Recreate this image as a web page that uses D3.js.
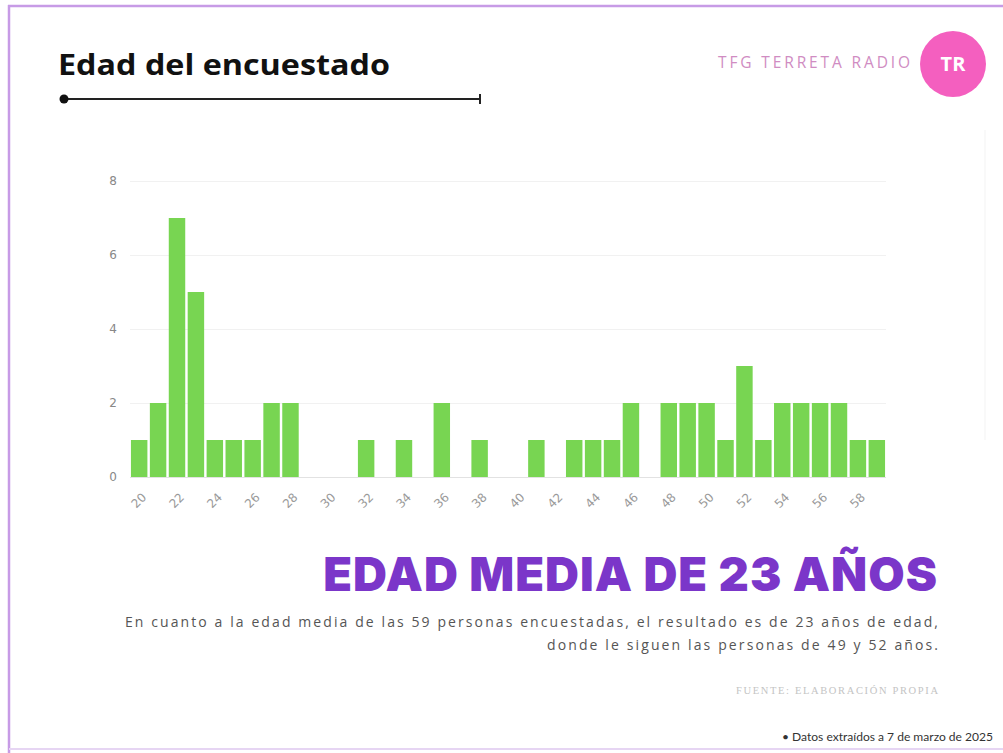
<!DOCTYPE html>
<html><head><meta charset="utf-8">
<script src="https://cdn.jsdelivr.net/npm/d3@7"></script>
<style>
html,body{margin:0;padding:0;background:#fff;}
svg{display:block;}
</style></head>
<body>
<svg id="c" width="1003" height="753"></svg>
<script>
const ages = d3.range(20, 60);
const counts = [1,2,7,5,1,1,1,2,2,0, 0,0,1,0,1,0,2,0,1,0, 0,1,0,1,1,1,2,0,2,2, 2,1,3,1,2,2,2,2,1,1];
const yTicks = [0,2,4,6,8];
const xTickLabels = d3.range(20, 60, 2);
const title = "Edad del encuestado";
const brand = "TFG TERRETA RADIO";
const brandInitials = "TR";
const headline = "EDAD MEDIA DE 23 AÑOS";
const bodyLines = ["En cuanto a la edad media de las 59 personas encuestadas, el resultado es de 23 años de edad,",
                   "donde le siguen las personas de 49 y 52 años."];
const source = "FUENTE: ELABORACIÓN PROPIA";
const note = "• Datos extraídos a 7 de marzo de 2025";

const svg = d3.select("#c");

// frame
svg.append("line").attr("x1",8).attr("x2",1003).attr("y1",6).attr("y2",6).attr("stroke","#c79be6").attr("stroke-width",2.5);
svg.append("line").attr("x1",9).attr("x2",9).attr("y1",5).attr("y2",753).attr("stroke","#c79be6").attr("stroke-width",2.5);
svg.append("line").attr("x1",9).attr("x2",1003).attr("y1",749).attr("y2",749).attr("stroke","#e6d5f3").attr("stroke-width",2);
svg.append("line").attr("x1",985).attr("x2",985).attr("y1",130).attr("y2",440).attr("stroke","#f3f3f3").attr("stroke-width",1);

// title
svg.append("text").attr("x",58).attr("y",75).text(title)
  .attr("font-family","Open Sans, Noto Sans, sans-serif").attr("font-weight",700).attr("font-size",29)
  .attr("textLength",332).attr("lengthAdjust","spacingAndGlyphs").attr("fill","#111");
svg.append("line").attr("x1",63).attr("x2",480).attr("y1",99).attr("y2",99).attr("stroke","#222").attr("stroke-width",2);
svg.append("circle").attr("cx",64).attr("cy",99).attr("r",4.5).attr("fill","#111");
svg.append("line").attr("x1",480).attr("x2",480).attr("y1",94).attr("y2",104).attr("stroke","#222").attr("stroke-width",2);

// brand
svg.append("text").attr("x",718).attr("y",68).text(brand)
  .attr("font-family","Open Sans, sans-serif").attr("font-size",15.5)
  .attr("textLength",192).attr("lengthAdjust","spacing").attr("fill","#d08cc2");
svg.append("circle").attr("cx",953).attr("cy",64).attr("r",33).attr("fill","#f45fbf");
svg.append("text").attr("x",953).attr("y",71).attr("text-anchor","middle").text(brandInitials)
  .attr("font-family","Open Sans, sans-serif").attr("font-weight",700).attr("font-size",20).attr("fill","#fff");

// chart
const x = d3.scaleBand().domain(ages).range([130, 886]).paddingInner(0.13).paddingOuter(0.05);
const y = d3.scaleLinear().domain([0, 8]).range([477, 181]);
const g = svg.append("g");

const yAxis = d3.axisLeft(y).tickValues(yTicks).tickSize(-(886-130)).tickPadding(13);
const ya = g.append("g").attr("transform","translate(130,0)").call(yAxis);
ya.select(".domain").remove();
ya.selectAll(".tick line").attr("stroke","#f1f1f1");
ya.selectAll(".tick text").attr("fill","#888").attr("font-size",12).attr("font-family","DejaVu Sans, sans-serif");

g.selectAll("rect.bar").data(ages).enter().append("rect").attr("class","bar")
  .attr("x", d => x(d)).attr("width", x.bandwidth())
  .attr("y", (d,i) => y(counts[i])).attr("height", (d,i) => y(0) - y(counts[i]))
  .attr("fill","#78d552");

g.append("line").attr("x1",130).attr("x2",886).attr("y1",y(0)+0.5).attr("y2",y(0)+0.5).attr("stroke","#e2e2e2");

const xAxis = d3.axisBottom(x).tickValues(xTickLabels).tickSize(0).tickPadding(0);
const xa = g.append("g").attr("transform","translate(0,477)").call(xAxis);
xa.select(".domain").remove();
xa.selectAll(".tick text")
  .attr("fill","#999").attr("font-size",12).attr("font-family","DejaVu Sans, sans-serif")
  .attr("text-anchor","end").attr("dy",0)
  .attr("transform","translate(8,21) rotate(-45)");

// headline
svg.append("text").attr("x",938).attr("y",591).attr("text-anchor","end").text(headline)
  .attr("font-family","Inter, Lato, sans-serif").attr("font-weight",900).attr("font-size",47)
  .attr("letter-spacing",1).attr("fill","#7b36c9");

const bodyWidths = [813, 391];
bodyLines.forEach((t,i) => {
  svg.append("text").attr("x",938 - bodyWidths[i]).attr("y",627 + i*23).text(t)
    .attr("font-family","Open Sans, sans-serif").attr("font-size",14)
    .attr("textLength",bodyWidths[i]).attr("lengthAdjust","spacing").attr("fill","#555");
});

svg.append("text").attr("x",736).attr("y",694).text(source)
  .attr("font-family","Liberation Serif, serif").attr("font-size",10.5)
  .attr("textLength",202).attr("lengthAdjust","spacing").attr("fill","#c4c4c4");

svg.append("text").attr("x",782).attr("y",741).text(note)
  .attr("font-family","Lato, sans-serif").attr("font-size",10.5)
  .attr("textLength",211).attr("lengthAdjust","spacingAndGlyphs").attr("fill","#333");
</script>
</body></html>
